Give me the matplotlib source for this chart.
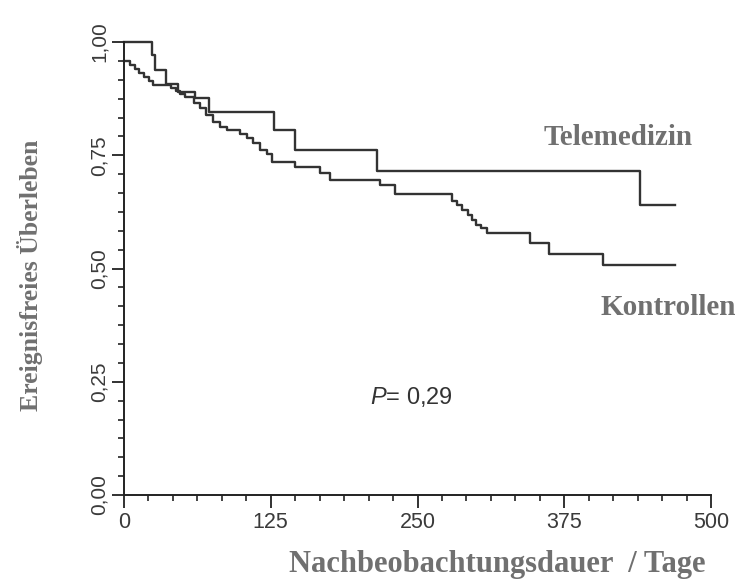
import matplotlib; matplotlib.use("Agg")
import matplotlib.pyplot as plt
from matplotlib.ticker import AutoMinorLocator

# --- Kaplan-Meier steps (days, survival) ---
tele_t = [0, 23.6, 26.5, 35.5, 46, 60.5, 72, 128, 146, 215.5, 439.5, 469]
tele_s = [1.0, 0.972, 0.938, 0.908, 0.889, 0.876, 0.846, 0.806, 0.761, 0.715, 0.640, 0.640]

ctrl_t = [0, 5, 9, 13, 17, 21, 25, 40, 44, 48, 52, 60, 65, 70, 76, 82, 88, 99, 104.5, 110,
          115.8, 121.5, 126, 146, 167, 175.5, 218, 231, 279, 284, 288, 293, 296, 300, 304, 309,
          346, 362, 408, 469]
ctrl_s = [0.957, 0.950, 0.941, 0.932, 0.923, 0.914, 0.905, 0.898, 0.891, 0.885, 0.879, 0.866,
          0.854, 0.838, 0.824, 0.813, 0.806, 0.797, 0.788, 0.776, 0.762, 0.752, 0.736, 0.725,
          0.710, 0.695, 0.684, 0.664, 0.648, 0.640, 0.629, 0.618, 0.607, 0.596, 0.590, 0.579,
          0.556, 0.531, 0.507, 0.507]

x_ticks = [0, 125, 250, 375, 500]
y_ticks = [0.0, 0.25, 0.5, 0.75, 1.0]
y_labels = ["0,00", "0,25", "0,50", "0,75", "1,00"]

plt.rcParams["mathtext.fontset"] = "custom"
plt.rcParams["mathtext.it"] = "Liberation Sans:italic"
plt.rcParams["mathtext.rm"] = "Liberation Sans"

LINE = "#333333"; LAB = "#707070"; TICK = "#3a3a3a"

fig = plt.figure(figsize=(7.42, 5.84), dpi=100)
ax = fig.add_axes([124/742, 89/584, 587/742, 453/584])

ax.step(tele_t, tele_s, where="post", color=LINE, lw=1.7, clip_on=False)
ax.step(ctrl_t, ctrl_s, where="post", color=LINE, lw=1.7, clip_on=False)

ax.set_xlim(0, 500); ax.set_ylim(0, 1)
for s in ("top", "right"):
    ax.spines[s].set_visible(False)
for s in ("left", "bottom"):
    ax.spines[s].set_linewidth(1.4); ax.spines[s].set_color("#222222")

ax.set_xticks(x_ticks); ax.set_xticklabels([str(v) for v in x_ticks])
ax.set_yticks(y_ticks); ax.set_yticklabels(y_labels, rotation=90, va="center")
ax.xaxis.set_minor_locator(AutoMinorLocator(6))
ax.yaxis.set_minor_locator(AutoMinorLocator(6))
ax.tick_params(which="major", length=9, width=1.3, color="#222222",
               labelcolor=TICK, pad=2)
ax.tick_params(which="minor", length=4.5, width=1.2, color="#222222")
ax.tick_params(axis="x", labelsize=15.5, pad=3)
ax.tick_params(axis="y", labelsize=15)
for lab in ax.get_xticklabels() + ax.get_yticklabels():
    lab.set_fontfamily("Liberation Sans")

serif = dict(family="Liberation Serif", fontweight="bold", color=LAB)
ax.text(421, 0.79, "Telemedizin", ha="center", va="center", fontsize=21, **serif)
ax.text(464, 0.413, "Kontrollen", ha="center", va="center", fontsize=21, **serif)
ax.text(245, 0.216, r"$\mathit{P}$= 0,29", ha="center", va="center", fontsize=17,
        color="#333333", family="Liberation Sans")

fig.text(0.040, 0.529, "Ereignisfreies Überleben", rotation=90, ha="center", va="center",
         fontsize=18.5, **serif)
fig.text(0.670, 0.033, "Nachbeobachtungsdauer  / Tage", ha="center", va="center",
         fontsize=22, **serif)

fig.savefig("out.png", dpi=100)
